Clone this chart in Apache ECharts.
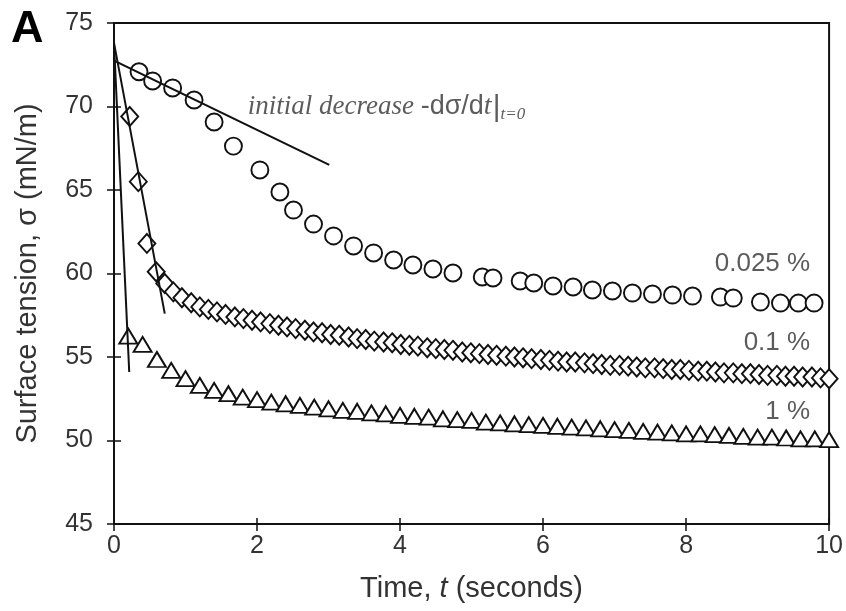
<!DOCTYPE html>
<html>
<head>
<meta charset="utf-8">
<script src="https://cdn.jsdelivr.net/npm/echarts@6/dist/echarts.min.js"></script>
<style>
  html, body { margin: 0; padding: 0; background: #fff; }
  #chart { width: 846px; height: 611px; }
</style>
</head>
<body>
<div id="chart"></div>
<script>
// Surface tension decay for three surfactant concentrations
const timeLow = [0.35, 0.54, 0.82, 1.12, 1.40, 1.67, 2.04, 2.32, 2.51, 2.79, 3.07, 3.35, 3.63, 3.91,
  4.18, 4.46, 4.74, 5.15, 5.30, 5.68, 5.87, 6.14, 6.42, 6.69, 6.97, 7.25, 7.53, 7.81, 8.09, 8.48,
  8.66, 9.04, 9.32, 9.57, 9.79];
const sigmaLow = [72.08, 71.53, 71.11, 70.39, 69.07, 67.63, 66.20, 64.88, 63.80, 62.96, 62.25, 61.65,
  61.23, 60.81, 60.51, 60.27, 60.03, 59.79, 59.73, 59.55, 59.43, 59.25, 59.19, 59.01, 58.95, 58.83,
  58.77, 58.71, 58.65, 58.59, 58.53, 58.29, 58.23, 58.23, 58.23];

const timeMid = [0.22, 0.34, 0.46, 0.59, 0.71, 0.83, 0.95, 1.08, 1.20, 1.32, 1.44, 1.56, 1.69, 1.81,
  1.93, 2.05, 2.18, 2.30, 2.42, 2.54, 2.67, 2.79, 2.91, 3.03, 3.15, 3.28, 3.40, 3.52, 3.64, 3.77,
  3.89, 4.01, 4.13, 4.25, 4.38, 4.50, 4.62, 4.74, 4.87, 4.99, 5.11, 5.23, 5.35, 5.48, 5.60, 5.72,
  5.84, 5.97, 6.09, 6.21, 6.33, 6.45, 6.58, 6.70, 6.82, 6.94, 7.07, 7.19, 7.31, 7.43, 7.56, 7.68,
  7.80, 7.92, 8.04, 8.17, 8.29, 8.41, 8.53, 8.66, 8.78, 8.90, 9.02, 9.14, 9.27, 9.39, 9.51, 9.63,
  9.76, 9.88, 10.00];
const sigmaMid = [69.4, 65.5, 61.8, 60.1, 59.4, 58.9, 58.55, 58.25, 58.0, 57.85, 57.7, 57.55, 57.4,
  57.3, 57.2, 57.1, 57.0, 56.9, 56.8, 56.7, 56.6, 56.5, 56.45, 56.35, 56.3, 56.2, 56.1, 56.05, 55.95,
  55.9, 55.85, 55.75, 55.7, 55.65, 55.55, 55.5, 55.45, 55.4, 55.3, 55.25, 55.2, 55.15, 55.1, 55.05,
  55.0, 54.95, 54.9, 54.85, 54.8, 54.75, 54.7, 54.7, 54.65, 54.6, 54.55, 54.5, 54.5, 54.45, 54.4,
  54.35, 54.35, 54.3, 54.25, 54.25, 54.2, 54.15, 54.15, 54.1, 54.05, 54.05, 54.0, 54.0, 53.95, 53.9,
  53.9, 53.85, 53.85, 53.8, 53.8, 53.75, 53.7];

const timeHigh = [0.2, 0.4, 0.6, 0.8, 1.0, 1.2, 1.4, 1.6, 1.8, 2.0, 2.2, 2.4, 2.6, 2.8, 3.0, 3.2, 3.4,
  3.6, 3.8, 4.0, 4.2, 4.4, 4.6, 4.8, 5.0, 5.2, 5.4, 5.6, 5.8, 6.0, 6.2, 6.4, 6.6, 6.8, 7.0, 7.2, 7.4,
  7.6, 7.8, 8.0, 8.2, 8.4, 8.6, 8.8, 9.0, 9.2, 9.4, 9.6, 9.8, 10.0];
const sigmaHigh = [56.25, 55.75, 54.85, 54.2, 53.7, 53.3, 53.0, 52.8, 52.6, 52.45, 52.3, 52.2, 52.1,
  52.0, 51.9, 51.8, 51.75, 51.65, 51.6, 51.5, 51.45, 51.4, 51.3, 51.25, 51.2, 51.1, 51.05, 51.0,
  50.95, 50.9, 50.85, 50.8, 50.75, 50.7, 50.65, 50.6, 50.55, 50.5, 50.45, 50.4, 50.4, 50.35, 50.3,
  50.25, 50.2, 50.2, 50.15, 50.1, 50.1, 50.05];

// Initial-slope tangent lines, [t, sigma] end points
const tangentLow = [[-0.1, 72.96], [3.01, 66.5]];
const tangentMid = [[0, 73.8], [0.71, 57.6]];
const tangentHigh = [[0, 73.8], [0.213, 54.1]];

// Concentration labels and their anchor points (right edge of each label)
const seriesLabels = ['0.025 %', '0.1 %', '1 %'];
const labelAnchors = [[9.735, 60.57], [9.735, 55.84], [9.735, 51.71]];
const annotationAnchor = [1.87, 69.97];

const xTicks = { min: 0, max: 10, interval: 2 };
const yTicks = { min: 45, max: 75, interval: 5 };

const zip = (a, b) => a.map((v, i) => [v, b[i]]);

const INK = '#111';
const TEXT = '#333';
const SANS = '"Liberation Sans", Arial, sans-serif';
const SERIF = '"Liberation Serif", "Times New Roman", serif';

const markerStyle = { color: '#fff', borderColor: INK, borderWidth: 1.9, opacity: 1 };
const lineStyle = { color: INK, width: 2 };

const chart = echarts.init(document.getElementById('chart'), null, { renderer: 'canvas' });

chart.setOption({
  animation: false,
  backgroundColor: '#fff',
  grid: { left: 114, top: 23, right: 15, bottom: 87, show: true, borderColor: INK, borderWidth: 2, backgroundColor: 'transparent' },
  xAxis: [{
    type: 'value', min: xTicks.min, max: xTicks.max, interval: xTicks.interval,
    axisLine: { show: true, onZero: false, lineStyle: { color: INK, width: 2 } },
    axisTick: { show: true, length: 7, lineStyle: { color: INK, width: 1.5 } },
    axisLabel: { fontSize: 25, color: TEXT, fontFamily: SANS, margin: 10 },
    splitLine: { show: false },
    name: '{n|Time, }{i|t}{n| (seconds)}',
    nameLocation: 'middle', nameGap: 50,
    nameTextStyle: {
      rich: {
        n: { fontSize: 29, color: TEXT, fontFamily: SANS },
        i: { fontSize: 29, color: TEXT, fontFamily: SANS, fontStyle: 'italic' }
      }
    }
  }, {
    type: 'value', min: xTicks.min, max: xTicks.max, interval: xTicks.interval, position: 'bottom',
    axisLine: { show: false }, axisLabel: { show: false }, splitLine: { show: false },
    axisTick: { show: true, inside: true, length: 6, lineStyle: { color: INK, width: 1.5 } }
  }],
  yAxis: [{
    type: 'value', min: yTicks.min, max: yTicks.max, interval: yTicks.interval,
    axisLine: { show: true, onZero: false, lineStyle: { color: INK, width: 2 } },
    axisTick: { show: true, length: 7, lineStyle: { color: INK, width: 1.5 } },
    axisLabel: { fontSize: 25, color: TEXT, fontFamily: SANS, margin: 21 },
    splitLine: { show: false },
    name: 'Surface tension, σ (mN/m)',
    nameLocation: 'middle', nameGap: 72,
    nameTextStyle: { fontSize: 29, color: TEXT, fontFamily: SANS }
  }, {
    type: 'value', min: yTicks.min, max: yTicks.max, interval: yTicks.interval, position: 'left',
    axisLine: { show: false }, axisLabel: { show: false }, splitLine: { show: false },
    axisTick: { show: true, inside: true, length: 7, lineStyle: { color: INK, width: 1.5 } }
  }],
  graphic: [{
    type: 'text', left: 11, top: 7,
    style: { text: 'A', font: 'bold 45px ' + SANS, fill: '#000' }
  }],
  series: [
    {
      name: '0.025 %', type: 'scatter', symbol: 'circle', symbolSize: 17,
      itemStyle: markerStyle, data: zip(timeLow, sigmaLow), z: 3
    },
    {
      name: '0.1 %', type: 'scatter', symbol: 'diamond', symbolSize: [17, 19],
      itemStyle: markerStyle, data: zip(timeMid, sigmaMid), z: 3
    },
    {
      name: '1 %', type: 'scatter', symbol: 'triangle', symbolSize: [18, 15],
      itemStyle: markerStyle, data: zip(timeHigh, sigmaHigh), z: 3
    },
    { type: 'line', data: tangentLow, symbol: 'none', lineStyle, clip: false, z: 4 },
    { type: 'line', data: tangentMid, symbol: 'none', lineStyle, clip: false, z: 4 },
    { type: 'line', data: tangentHigh, symbol: 'none', lineStyle, clip: false, z: 4 },
    {
      type: 'scatter', symbolSize: 0, silent: true, z: 5,
      data: labelAnchors.map((p, i) => ({ value: p, name: seriesLabels[i] })),
      label: {
        show: true, position: 'left', distance: 0, formatter: '{b}',
        fontSize: 26, color: TEXT, fontFamily: SANS
      }
    },
    {
      type: 'scatter', symbolSize: 0, silent: true, z: 5,
      data: [{ value: annotationAnchor }],
      label: {
        show: true, position: 'right', distance: 0,
        formatter: '{a|initial decrease }{b|-dσ/d}{c|t}{d||}{e|t=0}',
        rich: {
          a: { fontFamily: SERIF, fontStyle: 'italic', fontSize: 27, color: TEXT, lineHeight: 36 },
          b: { fontFamily: SANS, fontSize: 27, color: TEXT, lineHeight: 36 },
          c: { fontFamily: SERIF, fontStyle: 'italic', fontSize: 28, color: TEXT, lineHeight: 36 },
          d: { fontFamily: SANS, fontSize: 30, color: TEXT, lineHeight: 36, padding: [2, 0, 0, 1] },
          e: { fontFamily: SERIF, fontStyle: 'italic', fontSize: 17, color: TEXT, lineHeight: 36, padding: [16, 0, 0, 0] }
        }
      }
    }
  ]
});
</script>
</body>
</html>
